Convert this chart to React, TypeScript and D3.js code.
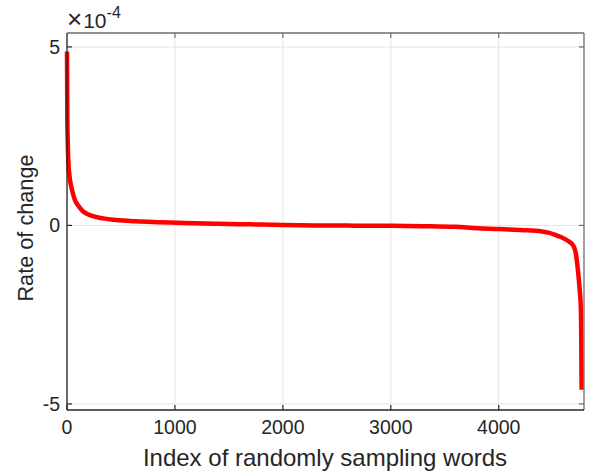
import React from "react";
import * as d3 from "d3";

const indices = [0, 1, 3, 5, 8, 14, 20, 28, 40, 50, 74, 100, 150, 213, 280, 350, 430, 520, 640, 860, 1100, 1400, 1700, 2000, 2300, 2600, 3000, 3300, 3600, 3800, 4000, 4200, 4400, 4470, 4520, 4580, 4640, 4690, 4715, 4735, 4750, 4760, 4764, 4766, 4768];
const values = [4.87, 4.2, 3.0, 2.6, 2.2, 1.7, 1.48, 1.27, 1.08, 0.95, 0.71, 0.57, 0.39, 0.29, 0.23, 0.19, 0.16, 0.135, 0.115, 0.09, 0.065, 0.045, 0.03, 0.01, 0.0, -0.005, -0.01, -0.02, -0.04, -0.08, -0.1, -0.13, -0.17, -0.21, -0.26, -0.33, -0.43, -0.56, -0.8, -1.3, -1.8, -2.25, -3.0, -3.8, -4.6];
const xTicks = [0, 1000, 2000, 3000, 4000];
const yTicks = [5, 0, -5];
const xLabel = "Index of randomly sampling words";
const yLabel = "Rate of change";

export default function App() {
  const W = 595, H = 476;
  const left = 67, right = 584, top = 33, bottom = 410;
  const x = d3.scaleLinear().domain([0, 4790]).range([left, right]);
  const y = d3.scaleLinear().domain([-5.17, 5.39]).range([bottom, top]);
  const line = d3
    .line<number>()
    .x((_, i) => x(indices[i]))
    .y((v) => y(v))
    .curve(d3.curveMonotoneX);
  const font = "Arial, 'Liberation Sans', Helvetica, sans-serif";
  const axisColor = "#262626";
  const tickLen = 5;
  return (
    <svg width={W} height={H} style={{ position: "absolute", left: 0, top: 0, background: "#fff" }} fontFamily={font}>
      <rect x={0} y={0} width={W} height={H} fill="#fff" />
      {xTicks.map((t) => (
        <line key={"gx" + t} x1={x(t)} x2={x(t)} y1={top} y2={bottom} stroke="#e3e3e3" strokeWidth={1} />
      ))}
      {yTicks.map((t) => (
        <line key={"gy" + t} x1={left} x2={right} y1={y(t)} y2={y(t)} stroke="#e3e3e3" strokeWidth={1} />
      ))}
      <path d={line(values) || ""} fill="none" stroke="#ff0000" strokeWidth={4.5} strokeLinejoin="round" strokeLinecap="butt" />
      <line x1={left} x2={right} y1={top} y2={top} stroke="#6e6e6e" strokeWidth={1.3} />
      <line x1={right} x2={right} y1={top} y2={bottom} stroke="#6e6e6e" strokeWidth={1.3} />
      <line x1={left} x2={right} y1={bottom} y2={bottom} stroke={axisColor} strokeWidth={1.3} />
      <line x1={left} x2={left} y1={top} y2={bottom} stroke={axisColor} strokeWidth={1.3} />
      {xTicks.map((t) => (
        <g key={"tx" + t}>
          <line x1={x(t)} x2={x(t)} y1={bottom} y2={bottom - tickLen} stroke={axisColor} strokeWidth={1.2} />
          <line x1={x(t)} x2={x(t)} y1={top} y2={top + tickLen} stroke="#6e6e6e" strokeWidth={1.2} />
          <text x={x(t)} y={434} textAnchor="middle" fontSize={19.5} fill="#262626">
            {t}
          </text>
        </g>
      ))}
      {yTicks.map((t) => (
        <g key={"ty" + t}>
          <line x1={left} x2={left + tickLen} y1={y(t)} y2={y(t)} stroke={axisColor} strokeWidth={1.2} />
          <line x1={right} x2={right - tickLen} y1={y(t)} y2={y(t)} stroke="#6e6e6e" strokeWidth={1.2} />
          <text x={60} y={y(t)} dy="0.36em" textAnchor="end" fontSize={19.5} fill="#262626">
            {t}
          </text>
        </g>
      ))}
      <text x={67} y={28} fontSize={21} fill="#262626">
        <tspan fontSize={26} fontWeight={300}>×</tspan>
        <tspan dx={1}>10</tspan>
        <tspan dy={-10} fontSize={16}>-4</tspan>
      </text>
      <text x={325} y={466} textAnchor="middle" fontSize={24} fill="#262626">
        {xLabel}
      </text>
      <text transform={`translate(33,228) rotate(-90)`} textAnchor="middle" fontSize={21.7} fill="#262626">
        {yLabel}
      </text>
    </svg>
  );
}
